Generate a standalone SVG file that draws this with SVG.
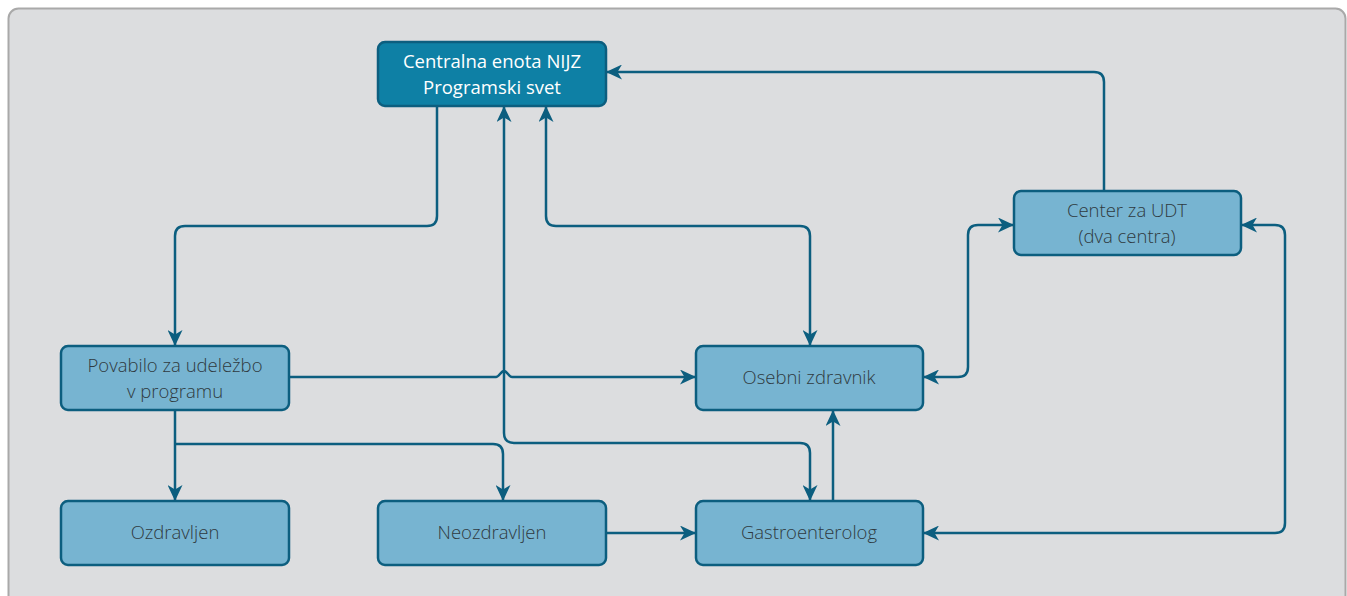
<svg xmlns="http://www.w3.org/2000/svg" width="1347" height="596" viewBox="0 0 1347 596">
<style>
.node{fill:#77b4d1;stroke:#0c5e7f;stroke-width:2.5}
.main{fill:#0e80a5;stroke:#0c5e7f;stroke-width:2.5}
.lbl{font-family:"Open Sans","Liberation Sans",sans-serif;font-size:18.5px;font-weight:300;fill:#2f3a40;text-anchor:middle}
.mlbl{font-family:"Open Sans","Liberation Sans",sans-serif;font-size:18.5px;font-weight:400;fill:#ffffff;text-anchor:middle}
.c{fill:none;stroke:#0c5e7f;stroke-width:2.5}
.e{marker-end:url(#arr)}
.b{marker-start:url(#arr);marker-end:url(#arr)}
</style>
<defs>
<marker id="arr" markerUnits="userSpaceOnUse" markerWidth="17" markerHeight="15" refX="16" refY="7.5" orient="auto-start-reverse" viewBox="0 0 17 15">
<path d="M0,0 L16,7.5 L0,15 L4.5,7.5 z" fill="#0c5e7f"/>
</marker>
</defs>
<rect x="0" y="0" width="1347" height="596" fill="#ffffff"/>
<rect x="8.5" y="8.5" width="1337" height="600" rx="10" fill="#dcdddf" stroke="#a9a9a9" stroke-width="2"/>
<g id="connectors">
<path class="c e" d="M437,106 V216 Q437,226 427,226 H185 Q175,226 175,236 V346"/>
<path class="c b" d="M546,106 V216 Q546,226 556,226 H800 Q810,226 810,236 V346"/>
<path class="c b" d="M504,106 V433 Q504,443 514,443 H800 Q810,443 810,453 V501"/>
<path class="c e" d="M289,377 H496 C499,377 501,371 504,371 C507,371 509,377 512,377 H696"/>
<path class="c e" d="M175,410 V501"/>
<path class="c e" d="M175,444 H493 Q503,444 503,454 V501"/>
<path class="c e" d="M606,533 H696"/>
<path class="c e" d="M833,501 V410"/>
<path class="c b" d="M923,377 H958 Q968,377 968,367 V235 Q968,225 978,225 H1014"/>
<path class="c b" d="M923,533 H1275 Q1285,533 1285,523 V235 Q1285,225 1275,225 H1241"/>
<path class="c e" d="M1104,191 V82 Q1104,72 1094,72 H606"/>
</g>
<g id="n-central">
<rect class="main" x="378" y="42" width="228" height="64" rx="7"/>
<text class="mlbl" x="492" y="68">Centralna enota NIJZ</text>
<text class="mlbl" x="492" y="94">Programski svet</text>
</g>
<g id="n-udt">
<rect class="node" x="1014" y="191" width="227" height="64" rx="7"/>
<text class="lbl" x="1127" y="217">Center za UDT</text>
<text class="lbl" x="1127" y="243">(dva centra)</text>
</g>
<g id="n-povabilo">
<rect class="node" x="61" y="346" width="228" height="64" rx="7"/>
<text class="lbl" x="175" y="372">Povabilo za udeležbo</text>
<text class="lbl" x="175" y="398">v programu</text>
</g>
<g id="n-osebni">
<rect class="node" x="696" y="346" width="227" height="64" rx="7"/>
<text class="lbl" x="809" y="384">Osebni zdravnik</text>
</g>
<g id="n-ozdravljen">
<rect class="node" x="61" y="501" width="228" height="64" rx="7"/>
<text class="lbl" x="175" y="539">Ozdravljen</text>
</g>
<g id="n-neozdravljen">
<rect class="node" x="378" y="501" width="228" height="64" rx="7"/>
<text class="lbl" x="492" y="539">Neozdravljen</text>
</g>
<g id="n-gastro">
<rect class="node" x="696" y="501" width="227" height="64" rx="7"/>
<text class="lbl" x="809" y="539">Gastroenterolog</text>
</g>
</svg>
